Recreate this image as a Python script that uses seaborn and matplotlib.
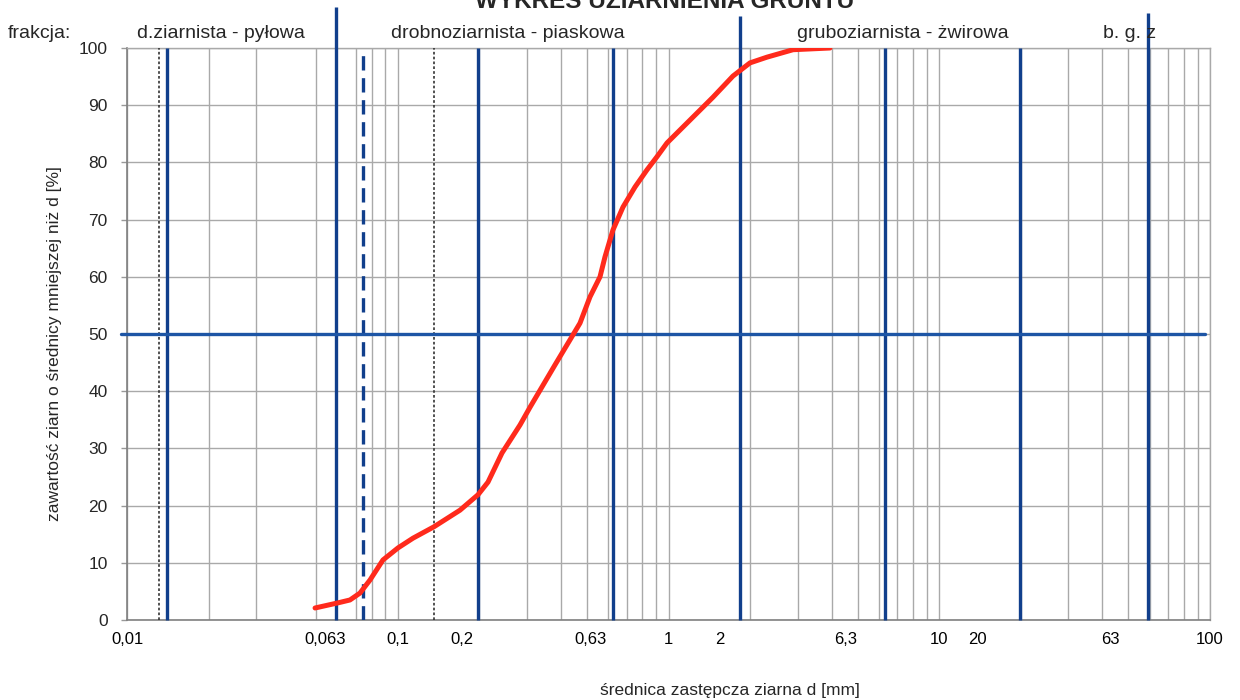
import numpy as np
import pandas as pd
import matplotlib
matplotlib.use("Agg")
import matplotlib.pyplot as plt
import seaborn as sns

# ---------------- data ----------------
diam_mm = [0.0495, 0.0602, 0.0666, 0.0725, 0.0790, 0.0882, 0.1002, 0.1138, 0.1361, 0.1698,
           0.1979, 0.2154, 0.2427, 0.2829, 0.3080, 0.3809, 0.4711, 0.5130, 0.5585, 0.5828,
           0.6237, 0.6792, 0.7521, 0.8329, 0.9069, 0.9873, 1.2007, 1.4602, 1.7308, 2.0000,
           2.3111, 2.8837, 3.9493]
passing_pct = [2.1, 3.0, 3.5, 4.7, 7.0, 10.5, 12.6, 14.3, 16.3, 19.2,
               21.9, 24.1, 29.2, 34.1, 37.2, 44.6, 51.9, 56.5, 60.0, 63.5,
               68.2, 72.2, 75.7, 78.7, 81.0, 83.4, 87.4, 91.4, 95.1, 97.4,
               98.4, 99.7, 100.0]

fraction_names = ["d.ziarnista - pyłowa", "drobnoziarnista - piaskowa",
                  "gruboziarnista - żwirowa", "b. g. z"]
boundary_lines = [0.014, 0.059, 0.198, 0.625, 1.84, 6.3, 19.9, 59.0]
tall_boundaries = [0.059, 1.84, 59.0]
tall_tops = [107.2, 105.6, 106.1]
dashed_blue_lines = [0.0745]
dotted_black_lines = [0.0131, 0.136]
median_line = 50

xtick_labels = ["0,01", "0,063", "0,1", "0,2", "0,63", "1", "2", "6,3", "10", "20", "63", "100"]
xtick_label_pos = [0.01, 0.054, 0.1, 0.173, 0.513, 1, 1.55, 4.52, 10, 13.8, 42.7, 100]
decade_ticks = [0.01, 0.1, 1, 10, 100]
yticks = list(range(0, 101, 10))

title = "WYKRES UZIARNIENIA GRUNTU"
xlabel = "średnica zastępcza ziarna d [mm]"
ylabel = "zawartość ziarn o średnicy mniejszej niż d [%]"

# ---------------- style ----------------
sns.set_style("white")
plt.rcParams["font.family"] = ["Liberation Sans", "DejaVu Sans"]

W, H = 1240, 700
fig = plt.figure(figsize=(W / 100, H / 100), dpi=100)
L, R, T, B = 127, 1210, 48, 620
ax = fig.add_axes([L / W, 1 - B / H, (R - L) / W, (B - T) / H])
ax.set_xscale("log")
ax.set_xlim(0.01, 100)
ax.set_ylim(0, 100)

grid_c = "#a9a9a9"
# vertical log grid (1..9 per decade)
grid_vals = [k * d for d in [0.01, 0.1, 1, 10] for k in range(1, 10)] + [100]
grid_vals = [g for g in grid_vals if not (np.isclose(g, 0.04) or np.isclose(g, 0.06))]
for g in grid_vals:
    ax.axvline(g, color=grid_c, lw=1.0, zorder=1)
for yv in yticks:
    ax.axhline(yv, color=grid_c, lw=1.0, zorder=1)

blue = "#113f8c"
for bx in boundary_lines:
    top = 100
    if bx in tall_boundaries:
        top = tall_tops[tall_boundaries.index(bx)]
    ax.plot([bx, bx], [0, top], color=blue, lw=2.4, zorder=3, clip_on=False,
            solid_capstyle="butt")
for bx in dashed_blue_lines:
    ax.plot([bx, bx], [0, 100], color=blue, lw=2.4, zorder=3,
            dashes=(4.3, 2.3), solid_capstyle="butt")
for bx in dotted_black_lines:
    ax.plot([bx, bx], [0, 100], color="#333333", lw=1.2, zorder=3,
            linestyle=(0, (1.6, 1.3)))
ax.axhline(median_line, xmin=-0.006, xmax=0.995, color="#1d55a5", lw=2.4,
           zorder=3, clip_on=False)

df = pd.DataFrame({"d": diam_mm, "p": passing_pct})
sns.lineplot(data=df, x="d", y="p", ax=ax, color="#ff2a1c", lw=3.6,
             sort=False, estimator=None, zorder=5)
ax.set_xscale("log")
ax.set_xlim(0.01, 100)
ax.set_ylim(0, 100)

# ticks
ax.set_xticks(xtick_label_pos)
ax.set_xticklabels(xtick_labels)
ax.set_xticks(decade_ticks, minor=True)
ax.set_xticklabels([], minor=True)
ax.tick_params(axis="x", which="major", length=0, pad=9, labelsize=12, colors="black")
ax.tick_params(axis="x", which="minor", length=4, width=1, color="#888888", bottom=True)
ax.set_yticks(yticks)
ax.set_yticklabels([str(v) for v in yticks])
ax.tick_params(axis="y", which="major", length=4, width=1, color="#999999",
               pad=10, labelsize=12.5, left=True)

for s in ["left", "bottom"]:
    ax.spines[s].set_color("#808080")
    ax.spines[s].set_linewidth(1.2)
for s in ["top", "right"]:
    ax.spines[s].set_color(grid_c)
    ax.spines[s].set_linewidth(1.0)

ax.set_xlabel(xlabel, fontsize=12.5, va="center")
ax.xaxis.set_label_coords((730 - L) / (R - L), (B - 690) / (B - T))
ax.set_ylabel(ylabel, fontsize=12.5, va="center")
ax.yaxis.set_label_coords((55 - L) / (R - L), (B - 344) / (B - T))

# header texts
fig.text(665 / W, 1 - 8 / H, title, ha="center", va="baseline",
         fontsize=17.5, fontweight="bold")
fig.text(8 / W, 1 - 33 / H, "frakcja:", ha="left", va="center", fontsize=14)
frac_centers = [221, 508, 903, 1130]
for name, cx in zip(fraction_names, frac_centers):
    fig.text(cx / W, 1 - 33 / H, name, ha="center", va="center", fontsize=14)

fig.savefig("out.png", dpi=100)
